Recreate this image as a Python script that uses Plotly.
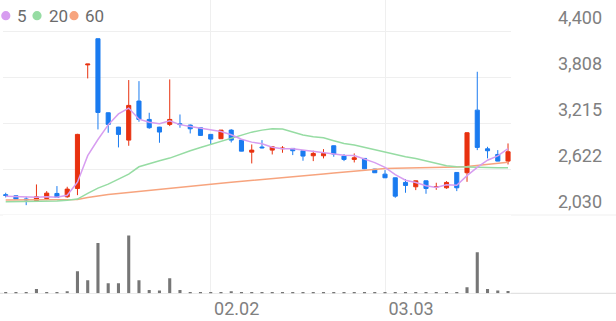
import plotly.graph_objects as go

# ---------------- data ----------------
dates = ["01.05", "01.06", "01.07", "01.08", "01.09", "01.12", "01.13", "01.14", "01.15", "01.16",
         "01.19", "01.20", "01.21", "01.22", "01.23", "01.26", "01.27", "01.28", "01.29", "01.30",
         "02.02", "02.03", "02.04", "02.05", "02.06", "02.09", "02.10", "02.11", "02.12", "02.13",
         "02.19", "02.20", "02.23", "02.24", "02.25", "02.26", "02.27", "03.03", "03.04", "03.05",
         "03.06", "03.09", "03.10", "03.11", "03.12", "03.13", "03.16", "03.17", "03.18", "03.19"]

opens = [2295, 2281, 2240, 2220, 2246, 2311, 2268, 2375, 3970, 4307,
         3352, 3167, 2999, 3503, 3266, 3167, 3202, 3210, 3193, 3159,
         3073, 3017, 3128, 2999, 2844, 2910, 2870, 2888, 2892, 2862,
         2797, 2797, 2926, 2793, 2750, 2763, 2625, 2560, 2513, 2453,
         2397, 2474, 2393, 2384, 2582, 2578, 3386, 2887, 2814, 2728]
highs = [2320, 2285, 2268, 2427, 2341, 2406, 2397, 3080, 3980, 4310,
         3355, 3170, 3774, 3760, 3352, 3170, 3782, 3330, 3200, 3165,
         3075, 3130, 3140, 3000, 2943, 2999, 2915, 2922, 2895, 2865,
         2862, 2883, 2930, 2819, 2827, 2765, 2628, 2612, 2515, 2496,
         2476, 2476, 2449, 2470, 2585, 3100, 3881, 2913, 2870, 2956]
lows = [2260, 2235, 2160, 2215, 2225, 2255, 2255, 2289, 3795, 3137,
        3094, 2905, 2926, 3236, 3145, 2965, 3180, 3159, 3085, 3055,
        2943, 3015, 2969, 2855, 2698, 2892, 2814, 2836, 2806, 2733,
        2728, 2763, 2784, 2728, 2711, 2625, 2575, 2510, 2255, 2320,
        2354, 2307, 2358, 2371, 2341, 2461, 2870, 2763, 2726, 2685]
closes = [2285, 2238, 2230, 2268, 2315, 2259, 2367, 3073, 3980, 3356,
          3202, 3073, 3447, 3266, 3159, 3103, 3266, 3200, 3145, 3060,
          3012, 3128, 2999, 2857, 2870, 2900, 2913, 2895, 2862, 2793,
          2827, 2827, 2819, 2750, 2771, 2629, 2578, 2513, 2276, 2414,
          2474, 2375, 2400, 2453, 2384, 3094, 2905, 2862, 2728, 2849]

ma5 = [2275, 2270, 2262, 2262, 2267, 2262, 2288, 2456, 2799, 3007,
       3196, 3337, 3412, 3269, 3229, 3210, 3248, 3199, 3175, 3155,
       3137, 3109, 3069, 3011, 2973, 2951, 2908, 2887, 2888, 2873,
       2858, 2841, 2826, 2803, 2799, 2759, 2709, 2648, 2553, 2482,
       2451, 2410, 2388, 2423, 2417, 2541, 2647, 2740, 2795, 2888]
ma20 = [2203, 2203, 2203, 2203, 2207, 2212, 2222, 2238, 2311, 2380,
        2431, 2496, 2560, 2655, 2698, 2733, 2767, 2818, 2861, 2904,
        2943, 2982, 3025, 3064, 3102, 3128, 3146, 3141, 3102, 3064,
        3042, 3029, 2991, 2956, 2935, 2905, 2870, 2840, 2806, 2784,
        2763, 2733, 2698, 2668, 2655, 2655, 2651, 2646, 2642, 2642]
ma60 = [2226, 2226, 2227, 2227, 2228, 2228, 2229, 2233, 2258, 2280,
        2296, 2311, 2325, 2339, 2353, 2367, 2380, 2393, 2406, 2418,
        2430, 2442, 2454, 2465, 2476, 2487, 2502, 2514, 2526, 2538,
        2550, 2562, 2574, 2586, 2598, 2610, 2622, 2633, 2636, 2638,
        2641, 2643, 2645, 2647, 2652, 2660, 2673, 2687, 2700, 2713]

volume = [50, 40, 40, 215, 50, 50, 100, 1100, 650, 2500,
          500, 500, 2885, 650, 165, 135, 750, 165, 60, 50,
          50, 50, 100, 65, 60, 50, 50, 40, 40, 50,
          50, 65, 50, 45, 45, 50, 50, 65, 50, 45,
          45, 50, 40, 40, 50, 300, 2050, 215, 135, 115]

price_ticks = [2030, 2622, 3215, 3808, 4400]
price_labels = ["2,030", "2,622", "3,215", "3,808", "4,400"]
date_ticks = ["02.02", "03.03"]
legend_names = ["5", "20", "60"]

# ---------------- style ----------------
W, H = 616, 321
RED = "#e8310f"
BLUE = "#1a7bf0"
C5, C20, C60 = "#d79df0", "#96dca3", "#f7a47e"
GRID = "#efefef"
FONT = "Roboto"

def py(px):
    return 1 - px / H

def pxx(px):
    return px / W

fig = go.Figure()
fig.add_trace(go.Candlestick(
    x=dates, open=opens, high=highs, low=lows, close=closes,
    increasing=dict(line=dict(color=RED, width=1), fillcolor=RED),
    decreasing=dict(line=dict(color=BLUE, width=1), fillcolor=BLUE),
    whiskerwidth=0, showlegend=False, hoverinfo="skip", xaxis="x", yaxis="y"))
for vals, col in [(ma60, C60), (ma20, C20), (ma5, C5)]:
    fig.add_trace(go.Scatter(x=dates, y=vals, mode="lines", line=dict(color=col, width=1.5),
                             showlegend=False, hoverinfo="skip", xaxis="x", yaxis="y"))
fig.add_trace(go.Bar(x=dates, y=volume, marker_color="#767676", marker_line_width=0,
                     width=0.3, showlegend=False, hoverinfo="skip", xaxis="x", yaxis="y2"))

shapes = [
    dict(type="line", xref="paper", yref="paper", x0=0, x1=1, y0=py(215), y1=py(215),
         line=dict(color=GRID, width=1.2), layer="below"),
    dict(type="line", xref="paper", yref="paper", x0=0, x1=1, y0=py(293.3), y1=py(293.3),
         line=dict(color="#e2e2e2", width=1.2), layer="below"),
]
annotations = []
dot_cx = [5.8, 37.0, 74.0]
txt_x = [14.5, 46.5, 82.5]
for name, col, cx, tx in zip(legend_names, [C5, C20, C60], dot_cx, txt_x):
    r = 4.6
    shapes.append(dict(type="circle", xref="paper", yref="paper",
                       x0=pxx(cx - r), x1=pxx(cx + r), y0=py(15.7 + r), y1=py(15.7 - r),
                       fillcolor=col, line=dict(width=0)))
    annotations.append(dict(text=name, xref="paper", yref="paper", x=pxx(tx), y=py(16.2),
                            xanchor="left", yanchor="middle", showarrow=False,
                            font=dict(family=FONT, size=17, color="#6b6b6b")))

fig.update_layout(
    width=W, height=H, margin=dict(l=0, r=0, t=0, b=0),
    paper_bgcolor="white", plot_bgcolor="white",
    boxgap=0.6, boxgroupgap=0,
    shapes=shapes, annotations=annotations, showlegend=False,
    xaxis=dict(type="category", domain=[pxx(3), pxx(511)], range=[-0.263, 49.29],
               anchor="y2", tickvals=date_ticks, ticktext=date_ticks,
               showgrid=True, gridcolor=GRID, gridwidth=1.2, showline=False, zeroline=False,
               ticks="", ticklabelshift=26, ticklabelstandoff=3,
               tickfont=dict(family=FONT, size=18, color="#808080"),
               rangeslider=dict(visible=False)),
    yaxis=dict(domain=[py(293.3), 1], range=[1022.6, 4806.9], side="right", anchor="x",
               tickvals=price_ticks, ticktext=price_labels,
               showgrid=True, gridcolor=GRID, gridwidth=1.2, zeroline=False, showline=False,
               ticks="", ticklabelshift=-14, ticklabelstandoff=46,
               tickfont=dict(family=FONT, size=18, color="#808080")),
    yaxis2=dict(domain=[py(293.3), py(215)], range=[0, 3900], anchor="x",
                showticklabels=False, showgrid=False, zeroline=False, showline=False),
)

fig.write_html("out.html")
